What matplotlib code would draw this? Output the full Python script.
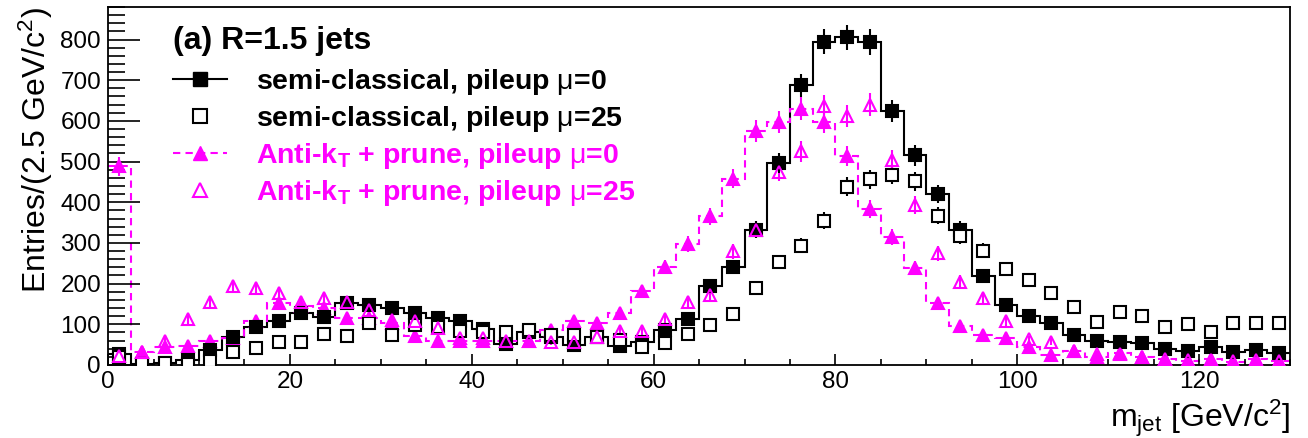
import numpy as np
import matplotlib
matplotlib.use("Agg")
import matplotlib.pyplot as plt
from matplotlib.lines import Line2D
from matplotlib.ticker import MultipleLocator

plt.rcParams["font.family"] = ["Liberation Sans", "DejaVu Sans"]
plt.rcParams["mathtext.fontset"] = "custom"
plt.rcParams["mathtext.rm"] = "Liberation Sans"
plt.rcParams["mathtext.bf"] = "Liberation Sans:bold"
plt.rcParams["mathtext.it"] = "Liberation Sans:italic"

# 52 bins of 2.5 GeV from 0 to 130
bin_edges = np.arange(0, 130.01, 2.5)
bin_centers = 0.5 * (bin_edges[:-1] + bin_edges[1:])

# semi-classical, pileup mu=0 (filled squares, solid histogram)
sc_mu0 = [28, 2, 6, 12, 37, 70, 94, 107, 127, 119, 152, 148, 140, 127, 116, 107,
          88, 52, 80, 70, 49, 70, 47, 57, 86, 112, 193, 242, 333, 497, 687, 795,
          805, 794, 624, 515, 420, 333, 218, 148, 121, 104, 74, 59, 56, 53, 39, 35,
          44, 33, 37, 30]
# semi-classical, pileup mu=25 (open squares)
sc_mu25 = [20, 3, 4, 2, 11, 33, 41, 57, 56, 76, 71, 103, 73, 99, 94, 84,
           80, 82, 86, 74, 74, 70, 62, 45, 53, 76, 99, 126, 189, 254, 293, 355,
           438, 456, 468, 452, 367, 316, 281, 236, 209, 177, 142, 105, 130, 121, 93, 100,
           80, 104, 104, 104]
# anti-kT + prune, pileup mu=0 (filled triangles, dashed histogram)
ak_mu0 = [488, 33, 45, 47, 60, 66, 109, 152, 144, 140, 115, 115, 103, 71, 60, 60,
          58, 60, 60, 86, 107, 103, 127, 181, 240, 297, 365, 458, 575, 597, 630, 597,
          513, 383, 314, 238, 152, 96, 74, 66, 44, 25, 34, 20, 30, 19, 14, 11,
          14, 8, 14, 11]
# anti-kT + prune, pileup mu=25 (open triangles)
ak_mu25 = [22, 33, 60, 112, 156, 193, 188, 178, 156, 164, 156, 135, 111, 107, 90, 66,
           66, 60, 58, 57, 56, 70, 84, 84, 112, 156, 172, 279, 333, 475, 525, 636,
           611, 640, 503, 394, 275, 205, 164, 107, 63, 57, 35, 27, 28, 20, 15, 13,
           12, 10, 12, 10]

MAG = "#ff00ff"

fig = plt.figure(figsize=(13.08, 4.38), dpi=100)
ax = fig.add_axes([0.0826, 0.1667, 0.9037, 0.8174])

dash = (0, (3.5, 2.5))

# histograms drawn as steps
ax.stairs(sc_mu0, bin_edges, color="black", lw=1.5, baseline=None)
ax.stairs(ak_mu0, bin_edges, color=MAG, lw=1.5, linestyle=dash, baseline=None)

def draw(vals, marker, color, filled):
    v = np.array(vals, dtype=float)
    err = 1.1 * np.sqrt(v)
    ax.errorbar(bin_centers, v, yerr=err, fmt="none", ecolor=color, elinewidth=1.5,
                capsize=0, zorder=3)
    ax.plot(bin_centers, v, linestyle="none", marker=marker, ms=8.3 if marker == "s" else 9.3,
            mfc=color if filled else "white" if marker == "s" else "none",
            mec=color, mew=1.5, zorder=4 if filled else 5)

draw(sc_mu25, "s", "black", False)
draw(ak_mu25, "^", MAG, False)
draw(ak_mu0, "^", MAG, True)
draw(sc_mu0, "s", "black", True)

ax.set_xlim(0, 130)
ax.set_ylim(0, 880)
ax.xaxis.set_major_locator(MultipleLocator(20))
ax.xaxis.set_minor_locator(MultipleLocator(5))
ax.yaxis.set_major_locator(MultipleLocator(100))
ax.yaxis.set_minor_locator(MultipleLocator(20))
ax.tick_params(axis="x", which="major", direction="in", length=8, width=1.2, labelsize=17.5, pad=4)
ax.tick_params(axis="x", which="minor", direction="in", length=4, width=1.2)
ax.tick_params(axis="y", which="major", direction="in", length=23, width=1.2, labelsize=17.5, pad=5)
ax.tick_params(axis="y", which="minor", direction="in", length=12, width=1.2)
for s in ax.spines.values():
    s.set_linewidth(1.3)

ax.set_ylabel("Entries/(2.5 GeV/c$^{2}$)", fontsize=23, loc="top")
ax.yaxis.set_label_coords(-0.045, 1.0)
ax.set_xlabel("m$_{\\mathrm{jet}}$ [GeV/c$^{2}$]", fontsize=23, loc="right")
ax.xaxis.set_label_coords(1.0, -0.09)
ax.xaxis.label.set_va("top")

handles = [
    Line2D([], [], color="black", lw=1.5, marker="s", ms=9.5, mfc="black", mec="black"),
    Line2D([], [], color="black", lw=0, marker="s", ms=9.5, mfc="white", mec="black", mew=1.5),
    Line2D([], [], color=MAG, lw=1.5, linestyle=dash, marker="^", ms=10.5, mfc=MAG, mec=MAG),
    Line2D([], [], color=MAG, lw=0, marker="^", ms=10.5, mfc="none", mec=MAG, mew=1.5),
]
labels = [
    "semi-classical, pileup $\\mathrm{\\mu}$=0",
    "semi-classical, pileup $\\mathrm{\\mu}$=25",
    "Anti-k$_{\\mathbf{T}}$ + prune, pileup $\\mathrm{\\mu}$=0",
    "Anti-k$_{\\mathbf{T}}$ + prune, pileup $\\mathrm{\\mu}$=25",
]
leg = ax.legend(handles, labels, loc="upper left", bbox_to_anchor=(0.055, 0.948),
                frameon=False, borderpad=0, borderaxespad=0, handlelength=1.9,
                handletextpad=1.0, labelspacing=0.24,
                prop={"weight": "bold", "size": 20.5},
                title="(a) R=1.5 jets",
                title_fontproperties={"weight": "bold", "size": 23},
                alignment="left",
                labelcolor=["black", "black", MAG, MAG])
# extra gap between the title and the entries
leg._legend_box.sep = 8.5

fig.savefig("out.png", dpi=100)
